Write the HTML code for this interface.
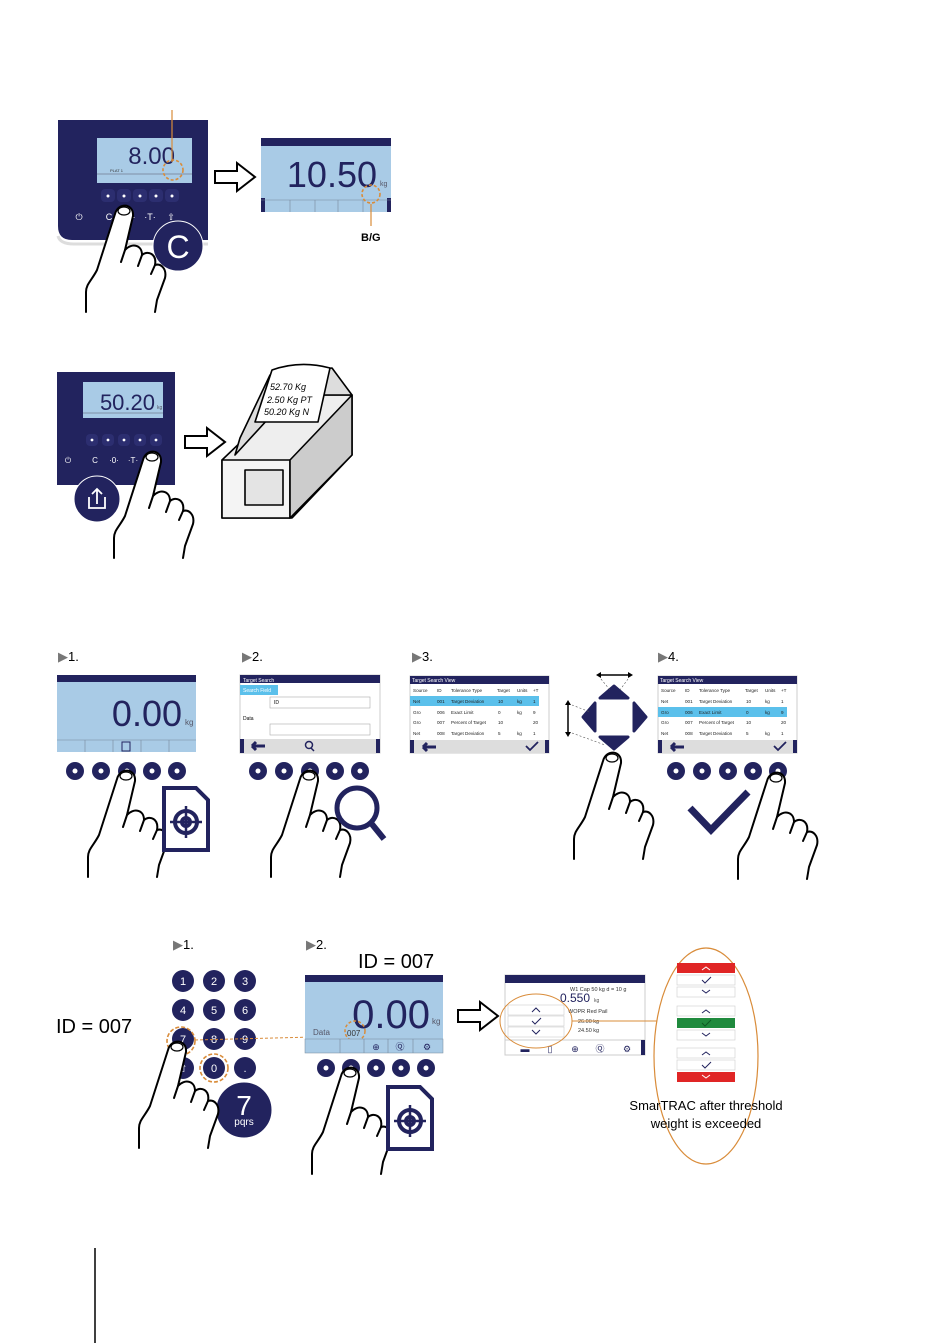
<!DOCTYPE html>
<html><head><meta charset="utf-8"><style>
html,body{margin:0;padding:0;background:#fff;}
svg{display:block;font-family:"Liberation Sans",sans-serif;}
</style></head><body>
<svg width="950" height="1343" viewBox="0 0 950 1343" xmlns="http://www.w3.org/2000/svg">
<defs>
<g id="hand" fill="#fff" stroke="#000" stroke-width="2" stroke-linejoin="round" stroke-linecap="round">
<path d="M-38,104 L-38,84 C-38,76 -32,72 -27,62 L-9,6 C-6,-6 10,-5 9,8 L1,42 C7,35 18,36 18,47 C24,42 33,46 31,57 C37,55 43,61 41,70 L33,92 L31,104" />
<path d="M1,42 L-3,54 M18,47 L14,58 M31,57 L27,66" fill="none"/>
<ellipse cx="0" cy="3" rx="6" ry="4" fill="none" stroke-width="1.2"/>
</g>
<g id="btn"><circle r="9" fill="#22235e"/><circle r="2.5" fill="#fff"/></g>
<g id="doc" fill="none" stroke="#22235e" stroke-width="4">
<path d="M2,2 L34,2 L46,14 L46,64 L2,64 Z" fill="#fff"/>
<circle cx="24" cy="36" r="11"/><circle cx="24" cy="36" r="4"/>
<path d="M24,20 V52 M8,36 H40" stroke-width="2.5"/>
</g>
<g id="tarrow" fill="#fff" stroke="#000" stroke-width="2"><path d="M0,8 H22 V0 L40,14 L22,28 V20 H0 Z"/></g>
</defs>

<!-- Section 1 -->
<path d="M58,120 H208 V240 H72 Q58,240 58,226 Z" fill="#22235e"/>
<path d="M58,236 Q60,244 74,244 H208" stroke="#ddd" stroke-width="3" fill="none"/>
<rect x="97" y="133" width="95" height="50" fill="#a9cbe6"/>
<rect x="97" y="133" width="95" height="5" fill="#22235e"/>
<text x="175" y="164" font-size="24" fill="#22235e" text-anchor="end">8.00</text>
<text x="110" y="172" font-size="4" fill="#333">PLAT 1</text>
<line x1="97" y1="174" x2="192" y2="174" stroke="#556" stroke-width="0.6"/>
<line x1="172" y1="110" x2="172" y2="162" stroke="#d98c3a" stroke-width="1.2"/>
<circle cx="173" cy="170" r="10" fill="none" stroke="#d98c3a" stroke-width="1.6" stroke-dasharray="3,2"/>
<g fill="#2c2e70"><rect x="101" y="189" width="14" height="13" rx="4"/><rect x="117" y="189" width="14" height="13" rx="4"/><rect x="133" y="189" width="14" height="13" rx="4"/><rect x="149" y="189" width="14" height="13" rx="4"/><rect x="165" y="189" width="14" height="13" rx="4"/></g>
<g fill="#fff"><circle cx="108" cy="196" r="1.5"/><circle cx="124" cy="196" r="1.5"/><circle cx="140" cy="196" r="1.5"/><circle cx="156" cy="196" r="1.5"/><circle cx="172" cy="196" r="1.5"/></g>
<g fill="#fff" font-size="9" text-anchor="middle"><text x="79" y="220">⏻</text><text x="109" y="220">C</text><text x="130" y="220">·0·</text><text x="150" y="220">·T·</text><text x="171" y="220">⇧</text></g>
<circle cx="178" cy="246" r="25" fill="#22235e" stroke="#fff" stroke-width="1"/>
<text x="178" y="258" font-size="32" fill="#fff" text-anchor="middle">C</text>
<use href="#hand" x="124" y="208"/>
<use href="#tarrow" x="215" y="163"/>
<rect x="261" y="138" width="130" height="74" fill="#a9cbe6"/>
<rect x="261" y="138" width="130" height="8" fill="#22235e"/>
<rect x="261" y="198" width="4" height="14" fill="#22235e"/><rect x="387" y="198" width="4" height="14" fill="#22235e"/>
<text x="377" y="187" font-size="36" fill="#22235e" text-anchor="end">10.50</text>
<text x="380" y="186" font-size="7" fill="#556">kg</text>
<g stroke="#789" stroke-width="0.6"><line x1="261" y1="200" x2="391" y2="200"/><line x1="290" y1="200" x2="290" y2="212"/><line x1="315" y1="200" x2="315" y2="212"/><line x1="338" y1="200" x2="338" y2="212"/><line x1="363" y1="200" x2="363" y2="212"/></g>
<circle cx="371" cy="194" r="9" fill="none" stroke="#d98c3a" stroke-width="1.6" stroke-dasharray="3,2"/>
<line x1="371" y1="204" x2="371" y2="226" stroke="#d98c3a" stroke-width="1.2"/>
<text x="361" y="241" font-size="11" font-weight="bold" fill="#000">B/G</text>

<!-- Section 2 -->
<rect x="57" y="372" width="118" height="113" fill="#22235e"/>
<rect x="83" y="382" width="80" height="36" fill="#a9cbe6"/>
<text x="155" y="410" font-size="22" fill="#22235e" text-anchor="end">50.20</text>
<text x="157" y="409" font-size="5" fill="#556">kg</text>
<line x1="83" y1="413" x2="163" y2="413" stroke="#556" stroke-width="0.5"/>
<g fill="#2c2e70"><rect x="86" y="434" width="12" height="12" rx="4"/><rect x="102" y="434" width="12" height="12" rx="4"/><rect x="118" y="434" width="12" height="12" rx="4"/><rect x="134" y="434" width="12" height="12" rx="4"/><rect x="150" y="434" width="12" height="12" rx="4"/></g>
<g fill="#fff"><circle cx="92" cy="440" r="1.4"/><circle cx="108" cy="440" r="1.4"/><circle cx="124" cy="440" r="1.4"/><circle cx="140" cy="440" r="1.4"/><circle cx="156" cy="440" r="1.4"/></g>
<g fill="#fff" font-size="8" text-anchor="middle"><text x="68" y="463">⏻</text><text x="95" y="463">C</text><text x="114" y="463">·0·</text><text x="133" y="463">·T·</text><text x="152" y="463">⇧</text></g>
<circle cx="97" cy="499" r="23" fill="#22235e" stroke="#fff" stroke-width="1"/>
<path d="M89,497 V508 H105 V497 M97,504 V489 M92,494 L97,489 L102,494" stroke="#fff" stroke-width="1.8" fill="none"/>
<use href="#hand" x="152" y="454"/>
<use href="#tarrow" x="185" y="428"/>
<g stroke="#000" stroke-width="1.6" fill="#fff" stroke-linejoin="round">
<path d="M222,460 L290,395 L352,395 L352,455 L292,518 L222,518 Z" fill="#eee"/>
<path d="M222,460 L290,460 L290,518 L222,518 Z" fill="#f4f4f4"/>
<path d="M290,460 L352,395 L352,455 L290,518 Z" fill="#ccc"/>
<path d="M240,438 L270,375 L332,368 L352,395 L290,395 L235,455 Z" fill="#ddd"/>
<path d="M255,422 L272,370 Q300,360 330,368 L318,422 Z" fill="#fff"/>
<path d="M245,470 L283,470 L283,505 L245,505 Z" fill="#e4e4e4"/>
</g>
<g font-size="9" font-style="italic" fill="#000"><text x="270" y="390">52.70 Kg</text><text x="267" y="403">2.50  Kg PT</text><text x="264" y="415">50.20 Kg N</text></g>

<!-- Section 3 -->
<g font-size="13" fill="#000"><text x="58" y="661"><tspan fill="#777">▶</tspan>1.</text><text x="242" y="661"><tspan fill="#777">▶</tspan>2.</text><text x="412" y="661"><tspan fill="#777">▶</tspan>3.</text><text x="658" y="661"><tspan fill="#777">▶</tspan>4.</text></g>
<rect x="57" y="675" width="139" height="77" fill="#a9cbe6"/>
<rect x="57" y="675" width="139" height="7" fill="#22235e"/>
<text x="182" y="726" font-size="36" fill="#22235e" text-anchor="end">0.00</text>
<text x="185" y="725" font-size="8" fill="#556">kg</text>
<g stroke="#789" stroke-width="0.6"><line x1="57" y1="740" x2="196" y2="740"/><line x1="85" y1="740" x2="85" y2="752"/><line x1="113" y1="740" x2="113" y2="752"/><line x1="141" y1="740" x2="141" y2="752"/><line x1="169" y1="740" x2="169" y2="752"/></g>
<rect x="122" y="742" width="8" height="9" fill="none" stroke="#22235e"/>
<g><use href="#btn" x="75" y="771"/><use href="#btn" x="101" y="771"/><use href="#btn" x="127" y="771"/><use href="#btn" x="152" y="771"/><use href="#btn" x="177" y="771"/></g>
<use href="#hand" x="126" y="773"/>
<use href="#doc" x="162" y="786"/>

<rect x="240" y="675" width="140" height="78" fill="#fff" stroke="#ccc"/>
<rect x="240" y="675" width="140" height="8" fill="#22235e"/>
<text x="243" y="682" font-size="5" fill="#fff">Target Search</text>
<rect x="240" y="685" width="38" height="10" fill="#5bc0eb"/>
<text x="243" y="692" font-size="5" fill="#fff">Search Field</text>
<rect x="270" y="697" width="100" height="11" fill="#fff" stroke="#aaa" stroke-width="0.6"/><text x="274" y="704" font-size="5">ID</text>
<text x="243" y="720" font-size="5">Data</text>
<rect x="270" y="724" width="100" height="11" fill="#fff" stroke="#aaa" stroke-width="0.6"/>
<rect x="240" y="739" width="140" height="14" fill="#ddd"/><rect x="240" y="739" width="4" height="14" fill="#22235e"/><rect x="376" y="739" width="4" height="14" fill="#22235e"/>
<path d="M252,746 H265 M252,746 l4,-4 M252,746 l4,4" stroke="#22235e" stroke-width="3"/>
<circle cx="309" cy="745" r="3.5" fill="none" stroke="#22235e" stroke-width="1.5"/><line x1="311" y1="748" x2="314" y2="751" stroke="#22235e" stroke-width="1.5"/>
<g><use href="#btn" x="258" y="771"/><use href="#btn" x="284" y="771"/><use href="#btn" x="310" y="771"/><use href="#btn" x="335" y="771"/><use href="#btn" x="360" y="771"/></g>
<use href="#hand" x="309" y="773"/>
<circle cx="357" cy="808" r="20" fill="none" stroke="#22235e" stroke-width="5"/><line x1="371" y1="823" x2="384" y2="839" stroke="#22235e" stroke-width="6"/>

<rect x="410" y="676" width="139" height="77" fill="#fff" stroke="#ccc"/>
<rect x="410" y="676" width="139" height="8" fill="#22235e"/>
<text x="412" y="682" font-size="5" fill="#fff">Target Search View</text>
<rect x="410" y="696" width="129" height="10" fill="#5bc0eb"/>
<g font-size="4.6" fill="#222">
<text x="413" y="692">Source</text><text x="437" y="692">ID</text><text x="451" y="692">Tolerance Type</text><text x="497" y="692">Target</text><text x="517" y="692">Units</text><text x="533" y="692">+T</text>
<text x="413" y="703">Net</text><text x="437" y="703">001</text><text x="451" y="703">Target Deviation</text><text x="498" y="703">10</text><text x="517" y="703">kg</text><text x="533" y="703">1</text>
<text x="413" y="714">Gro</text><text x="437" y="714">006</text><text x="451" y="714">Exact Limit</text><text x="498" y="714">0</text><text x="517" y="714">kg</text><text x="533" y="714">9</text>
<text x="413" y="724">Gro</text><text x="437" y="724">007</text><text x="451" y="724">Percent of Target</text><text x="498" y="724">10</text><text x="533" y="724">20</text>
<text x="413" y="735">Net</text><text x="437" y="735">008</text><text x="451" y="735">Target Deviation</text><text x="498" y="735">5</text><text x="517" y="735">kg</text><text x="533" y="735">1</text>
</g>
<rect x="410" y="740" width="139" height="13" fill="#ddd"/><rect x="410" y="740" width="4" height="13" fill="#22235e"/><rect x="545" y="740" width="4" height="13" fill="#22235e"/>
<path d="M423,747 H436 M423,747 l4,-4 M423,747 l4,4" stroke="#22235e" stroke-width="3"/>
<path d="M526,746 l4,4 l8,-8" stroke="#22235e" stroke-width="1.8" fill="none"/>

<g fill="#22235e" stroke="#22235e" stroke-width="3" stroke-linejoin="round">
<path d="M614,686 L628,698 H600 Z"/>
<path d="M614,749 L628,737 H600 Z"/>
<path d="M583,717 L595,703 V731 Z"/>
<path d="M646,717 L634,703 V731 Z"/>
</g>
<g stroke="#000" stroke-width="1.5"><line x1="598" y1="675" x2="631" y2="675"/><line x1="568" y1="702" x2="568" y2="735"/></g>
<g fill="#000"><path d="M596,675 l5,-3 v6 Z"/><path d="M633,675 l-5,-3 v6 Z"/><path d="M568,700 l-3,5 h6 Z"/><path d="M568,737 l-3,-5 h6 Z"/></g>
<g stroke="#555" stroke-width="0.6" stroke-dasharray="2,2"><line x1="601" y1="679" x2="610" y2="690"/><line x1="628" y1="679" x2="620" y2="690"/><line x1="572" y1="705" x2="590" y2="712"/><line x1="572" y1="733" x2="605" y2="745"/></g>
<use href="#hand" x="612" y="755"/>

<rect x="658" y="676" width="139" height="77" fill="#fff" stroke="#ccc"/>
<rect x="658" y="676" width="139" height="8" fill="#22235e"/>
<text x="660" y="682" font-size="5" fill="#fff">Target Search View</text>
<rect x="658" y="707" width="129" height="10" fill="#5bc0eb"/>
<g font-size="4.6" fill="#222">
<text x="661" y="692">Source</text><text x="685" y="692">ID</text><text x="699" y="692">Tolerance Type</text><text x="745" y="692">Target</text><text x="765" y="692">Units</text><text x="781" y="692">+T</text>
<text x="661" y="703">Net</text><text x="685" y="703">001</text><text x="699" y="703">Target Deviation</text><text x="746" y="703">10</text><text x="765" y="703">kg</text><text x="781" y="703">1</text>
<text x="661" y="714">Gro</text><text x="685" y="714">006</text><text x="699" y="714">Exact Limit</text><text x="746" y="714">0</text><text x="765" y="714">kg</text><text x="781" y="714">9</text>
<text x="661" y="724">Gro</text><text x="685" y="724">007</text><text x="699" y="724">Percent of Target</text><text x="746" y="724">10</text><text x="781" y="724">20</text>
<text x="661" y="735">Net</text><text x="685" y="735">008</text><text x="699" y="735">Target Deviation</text><text x="746" y="735">5</text><text x="765" y="735">kg</text><text x="781" y="735">1</text>
</g>
<rect x="658" y="740" width="139" height="13" fill="#ddd"/><rect x="658" y="740" width="4" height="13" fill="#22235e"/><rect x="793" y="740" width="4" height="13" fill="#22235e"/>
<path d="M671,747 H684 M671,747 l4,-4 M671,747 l4,4" stroke="#22235e" stroke-width="3"/>
<path d="M774,746 l4,4 l8,-8" stroke="#22235e" stroke-width="1.8" fill="none"/>
<g><use href="#btn" x="676" y="771"/><use href="#btn" x="702" y="771"/><use href="#btn" x="728" y="771"/><use href="#btn" x="753" y="771"/><use href="#btn" x="778" y="771"/></g>
<path d="M690,808 L711,830 L748,792" stroke="#22235e" stroke-width="7" fill="none"/>
<use href="#hand" x="776" y="775"/>

<!-- Section 4 -->
<g font-size="13" fill="#000"><text x="173" y="949"><tspan fill="#777">▶</tspan>1.</text><text x="306" y="949"><tspan fill="#777">▶</tspan>2.</text></g>
<text x="358" y="968" font-size="20" fill="#000">ID = 007</text>
<text x="56" y="1033" font-size="20" fill="#000">ID = 007</text>
<g fill="#22235e">
<circle cx="183" cy="981" r="11"/><circle cx="214" cy="981" r="11"/><circle cx="245" cy="981" r="11"/>
<circle cx="183" cy="1010" r="11"/><circle cx="214" cy="1010" r="11"/><circle cx="245" cy="1010" r="11"/>
<circle cx="183" cy="1039" r="11"/><circle cx="214" cy="1039" r="11"/><circle cx="245" cy="1039" r="11"/>
<circle cx="183" cy="1068" r="11"/><circle cx="214" cy="1068" r="11"/><circle cx="245" cy="1068" r="11"/>
</g>
<g fill="#fff" font-size="11" text-anchor="middle">
<text x="183" y="985">1</text><text x="214" y="985">2</text><text x="245" y="985">3</text>
<text x="183" y="1014">4</text><text x="214" y="1014">5</text><text x="245" y="1014">6</text>
<text x="183" y="1043">7</text><text x="214" y="1043">8</text><text x="245" y="1043">9</text>
<text x="183" y="1072">⇧</text><text x="214" y="1072">0</text><text x="245" y="1072">.</text>
</g>
<circle cx="181" cy="1041" r="14" fill="none" stroke="#d98c3a" stroke-width="1.6" stroke-dasharray="4,2"/>
<circle cx="214" cy="1068" r="14" fill="none" stroke="#d98c3a" stroke-width="1.6" stroke-dasharray="4,2"/>
<line x1="195" y1="1040" x2="355" y2="1036" stroke="#d98c3a" stroke-width="1" stroke-dasharray="3,2"/>
<circle cx="244" cy="1110" r="28" fill="#22235e" stroke="#fff"/>
<text x="244" y="1115" font-size="28" fill="#fff" text-anchor="middle">7</text>
<text x="244" y="1125" font-size="10" fill="#fff" text-anchor="middle">pqrs</text>
<use href="#hand" x="177" y="1044"/>

<rect x="305" y="975" width="138" height="78" fill="#a9cbe6"/>
<rect x="305" y="975" width="138" height="7" fill="#22235e"/>
<text x="430" y="1028" font-size="40" fill="#22235e" text-anchor="end">0.00</text>
<text x="432" y="1024" font-size="8" fill="#556">kg</text>
<text x="313" y="1035" font-size="8" fill="#556">Data</text>
<circle cx="355" cy="1031" r="10" fill="none" stroke="#d98c3a" stroke-width="1.5" stroke-dasharray="3,2"/>
<text x="347" y="1036" font-size="8" fill="#333">007</text>
<rect x="305" y="1039" width="138" height="14" fill="#a9cbe6" stroke="#789" stroke-width="0.5"/>
<g stroke="#789" stroke-width="0.6"><line x1="340" y1="1039" x2="340" y2="1053"/><line x1="364" y1="1039" x2="364" y2="1053"/><line x1="388" y1="1039" x2="388" y2="1053"/><line x1="413" y1="1039" x2="413" y2="1053"/></g>
<g fill="#22235e" font-size="9" text-anchor="middle"><text x="376" y="1050">⊕</text><text x="400" y="1050">Ⓠ</text><text x="427" y="1050">⚙</text></g>
<g><use href="#btn" x="326" y="1068"/><use href="#btn" x="351" y="1068"/><use href="#btn" x="376" y="1068"/><use href="#btn" x="401" y="1068"/><use href="#btn" x="426" y="1068"/></g>
<use href="#hand" x="350" y="1070"/>
<use href="#doc" x="386" y="1085"/>

<use href="#tarrow" x="458" y="1002"/>
<rect x="505" y="975" width="140" height="80" fill="#fff" stroke="#ccc"/>
<rect x="505" y="975" width="140" height="8" fill="#22235e"/>
<text x="570" y="991" font-size="5.5" fill="#333">W1 Cap 50 kg d = 10 g</text>
<text x="560" y="1002" font-size="12" fill="#22235e">0.550</text><text x="594" y="1002" font-size="5" fill="#555">kg</text>
<text x="568" y="1013" font-size="5.5" fill="#333">WOPR Red Pail</text>
<text x="578" y="1023" font-size="5.5" fill="#333">26.00 kg</text><text x="578" y="1032" font-size="5.5" fill="#333">24.50 kg</text>
<g fill="#fff" stroke="#ccc" stroke-width="0.6"><rect x="508" y="1005" width="56" height="10"/><rect x="508" y="1016" width="56" height="10"/><rect x="508" y="1027" width="56" height="10"/></g>
<g stroke="#22235e" stroke-width="1" fill="none"><path d="M532,1012 l4,-4 l4,4"/><path d="M532,1021 l3,3 l6,-6"/><path d="M532,1030 l4,4 l4,-4"/></g>
<rect x="505" y="1040" width="140" height="15" fill="#fff" stroke="#ccc"/><rect x="641" y="1040" width="4" height="15" fill="#22235e"/>
<g fill="#22235e" font-size="9" text-anchor="middle"><text x="525" y="1052">▬</text><text x="550" y="1052">▯</text><text x="575" y="1052">⊕</text><text x="600" y="1052">Ⓠ</text><text x="627" y="1052">⚙</text></g>
<ellipse cx="536" cy="1021" rx="36" ry="27" fill="none" stroke="#d98c3a" stroke-width="1"/>
<line x1="572" y1="1021" x2="657" y2="1021" stroke="#d98c3a" stroke-width="1"/>
<ellipse cx="706" cy="1056" rx="52" ry="108" fill="none" stroke="#d98c3a" stroke-width="1.2"/>
<g fill="#fff" stroke="#ccc" stroke-width="0.6">
<rect x="677" y="963" width="58" height="10" fill="#e02525" stroke="none"/><rect x="677" y="975" width="58" height="10"/><rect x="677" y="987" width="58" height="10"/>
<rect x="677" y="1006" width="58" height="10"/><rect x="677" y="1018" width="58" height="10" fill="#1f8a3d" stroke="none"/><rect x="677" y="1030" width="58" height="10"/>
<rect x="677" y="1048" width="58" height="10"/><rect x="677" y="1060" width="58" height="10"/><rect x="677" y="1072" width="58" height="10" fill="#e02525" stroke="none"/>
</g>
<g stroke-width="1" fill="none" stroke="#22235e">
<path d="M702,970 l4,-3 l4,3" stroke="#fff"/><path d="M702,980 l3,3 l6,-6"/><path d="M702,990 l4,3 l4,-3"/>
<path d="M702,1013 l4,-3 l4,3"/><path d="M702,1023 l3,3 l6,-6" stroke="#0c5a22"/><path d="M702,1033 l4,3 l4,-3"/>
<path d="M702,1055 l4,-3 l4,3"/><path d="M702,1065 l3,3 l6,-6"/><path d="M702,1075 l4,3 l4,-3" stroke="#fff"/>
</g>
<text x="706" y="1110" font-size="13" fill="#000" text-anchor="middle">SmarTRAC after threshold</text>
<text x="706" y="1128" font-size="13" fill="#000" text-anchor="middle">weight is exceeded</text>

<line x1="95" y1="1248" x2="95" y2="1343" stroke="#000" stroke-width="1.5"/>
</svg>
</body></html>
